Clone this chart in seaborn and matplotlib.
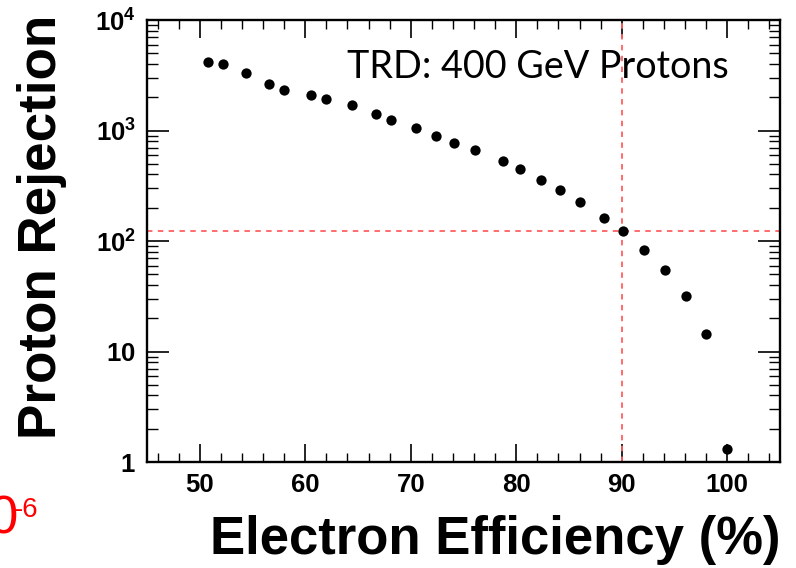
import matplotlib
matplotlib.use("Agg")
import matplotlib.pyplot as plt
import matplotlib.ticker as mticker
import numpy as np
import pandas as pd
import seaborn as sns

efficiency = [50.8, 52.2, 54.4, 56.6, 58.0, 60.5, 62.0, 64.4, 66.7, 68.1,
              70.5, 72.4, 74.1, 76.1, 78.7, 80.4, 82.3, 84.1, 86.0, 88.3,
              90.1, 92.1, 94.1, 96.1, 98.0, 100.0]
rejection = [4170, 3975, 3340, 2640, 2345, 2080, 1945, 1690, 1415, 1255,
             1055, 892, 778, 672, 534, 452, 359, 288, 225, 160,
             122, 83, 55, 31.8, 14.5, 1.32]
ref_eff = 90.0
ref_rej = 122.0
ytick_vals = [1, 10, 100, 1000, 10000]
ytick_labels = [r"$\mathbf{1}$", r"$\mathbf{10}$", r"$\mathbf{10^{2}}$",
                r"$\mathbf{10^{3}}$", r"$\mathbf{10^{4}}$"]
xtick_vals = [50, 60, 70, 80, 90, 100]

sns.set_style("ticks")
plt.rcParams["font.family"] = ["Liberation Sans", "DejaVu Sans"]
plt.rcParams["mathtext.fontset"] = "custom"
plt.rcParams["mathtext.rm"] = "Liberation Sans"
plt.rcParams["mathtext.bf"] = "Liberation Sans:bold"
plt.rcParams["text.color"] = "black"
plt.rcParams["xtick.color"] = "black"
plt.rcParams["ytick.color"] = "black"
plt.rcParams["xtick.labelcolor"] = "black"
plt.rcParams["ytick.labelcolor"] = "black"

df = pd.DataFrame({"eff": efficiency, "rej": rejection})

fig = plt.figure(figsize=(7.96, 5.68), dpi=100)
ax = fig.add_axes([147/796, 1 - 462/568, (780-147)/796, (462-20)/568])

ax.axvline(ref_eff, color="#ff6060", lw=1.3, ls=(0, (3, 3)), zorder=1)
ax.axhline(ref_rej, color="#ff6060", lw=1.3, ls=(0, (3, 3)), zorder=1)

sns.scatterplot(data=df, x="eff", y="rej", ax=ax, color="black", s=55,
                edgecolor="black", linewidth=0, zorder=3, legend=False)

ax.set_yscale("log")
ax.set_xlim(45, 105)
ax.set_ylim(1, 10000)

ax.set_xticks(xtick_vals)
ax.set_xticklabels([str(v) for v in xtick_vals], fontsize=18.5,
                   fontweight="bold", color="black")
ax.xaxis.set_minor_locator(mticker.MultipleLocator(2))
ax.set_yticks(ytick_vals)
ax.set_yticklabels(ytick_labels, fontsize=18.5, color="black")
ax.yaxis.set_minor_locator(mticker.LogLocator(base=10, subs=np.arange(2, 10)))
ax.yaxis.set_minor_formatter(mticker.NullFormatter())

ax.tick_params(axis="both", which="both", direction="in", top=True, right=True,
               color="black")
ax.tick_params(axis="x", which="major", length=13, width=1.2, pad=8)
ax.tick_params(axis="x", which="minor", length=6.5, width=1.0)
ax.tick_params(axis="y", which="major", length=16, width=1.2, pad=8)
ax.tick_params(axis="y", which="minor", length=8, width=1.0)

for sp in ax.spines.values():
    sp.set_visible(True)
    sp.set_linewidth(1.7)
    sp.set_color("black")

ax.set_xlabel("")
ax.set_ylabel("")

fig.text(780/796, 1 - 540/568, "Electron Efficiency (%)", fontsize=38,
         fontweight="bold", ha="right", va="center", color="black")
fig.text(42/796, 1 - 15/568, "Proton Rejection", fontsize=38.2,
         fontweight="bold", rotation=90, ha="center", va="top", color="black")

ax.text(347/796, 1 - 78/568, "TRD: 400 GeV Protons", transform=fig.transFigure,
        fontsize=27.2, family=["Lato", "DejaVu Sans"], ha="left",
        va="baseline", color="black")

fig.text(-11/796, 1 - 533/568, "0", fontsize=38, color="#ff0000",
         ha="left", va="baseline")
fig.text(14/796, 1 - 517/568, "-6", fontsize=20, color="#ff0000",
         ha="left", va="baseline")

fig.savefig("out.png", dpi=100)
